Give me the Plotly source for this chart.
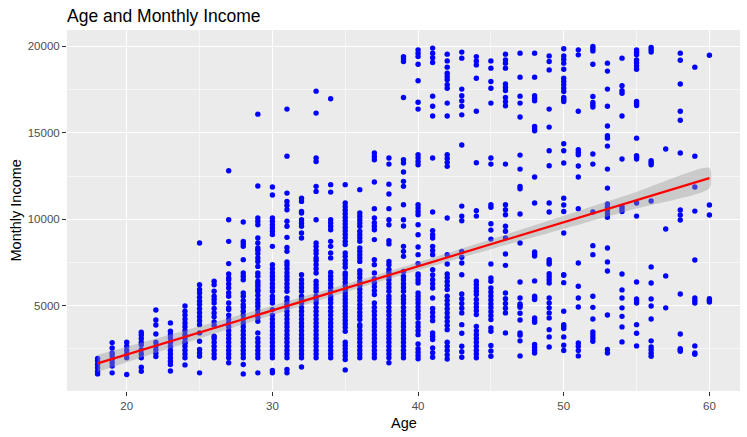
import plotly.graph_objects as go

# ---- data (Age vs MonthlyIncome) ----
inc_18 = [1050, 1200, 1400, 1600, 1800, 1950]
inc_19 = [1110, 1500, 1700, 1900, 2100, 2260, 2550, 2860]
inc_20 = [1010, 1980, 2200, 2420, 2650, 2880]
inc_21 = [1200, 1430, 1980, 2200, 2450, 2740, 2880, 3100, 3300, 3460]
inc_22 = [2050, 2250, 2450, 2650, 2880, 3360, 3880, 4170, 4750]
inc_23 = [1220, 1590, 1780, 1980, 2200, 2420, 2650, 2880, 3130, 3320, 3520, 4000]
inc_24 = [1570, 1980, 2200, 2420, 2650, 2840, 2880, 3100, 3320, 3550, 3780, 4000,
          4220, 4450, 4670, 4980]
inc_25 = [1110, 2070, 2260, 2460, 2940, 3420, 3900, 4130, 4360, 4590, 4820, 5060,
          5250, 5490, 5730, 5930, 6210, 8620]
inc_26 = [1980, 2200, 2420, 2650, 2880, 3100, 3230, 3860, 4060, 4350, 4580, 4830,
          5150, 5350, 5540, 5830, 6210, 6410]
inc_27 = [1690, 1980, 2200, 2420, 2650, 2880, 3100, 3320, 3550, 3780, 4000, 4220,
          4450, 4770, 4870, 5150, 5540, 5750, 6020, 6250, 6500, 6600, 6830, 7430,
          8720, 9970, 12800]
inc_28 = [1050, 1590, 1980, 2200, 2420, 2650, 2880, 3100, 3320, 3550, 3780, 4000,
          4220, 4450, 4680, 4900, 5060, 5290, 5540, 5730, 6500, 6700, 6890, 7660,
          8430, 8580, 8720, 9840]
inc_29 = [1110, 1980, 2200, 2420, 2650, 2880, 3100, 3420, 4090, 4300, 4520, 4740,
          4960, 5150, 5350, 5600, 5830, 5930, 6120, 6260, 6410, 6700, 6890, 7270,
          7560, 7760, 8000, 8200, 8330, 8620, 8910, 9680, 9880, 10070, 11920, 16080]
inc_30 = [1110, 1250, 1980, 2200, 2420, 2650, 2880, 3100, 3320, 3550, 3780, 4000,
          4220, 4450, 4770, 5150, 5350, 5540, 5830, 6050, 6270, 6500, 6700, 6900,
          7130, 7370, 8430, 9110, 9300, 9490, 9680, 9880, 10070, 11400, 11860]
inc_31 = [1110, 1300, 1980, 2200, 2420, 2650, 2880, 3100, 3320, 3550, 3780, 4000,
          4220, 4450, 4680, 4900, 5060, 5250, 5450, 5830, 6050, 6270, 6500, 6700,
          6900, 7130, 7350, 7520, 8140, 8370, 8950, 9590, 9880, 10550, 10800, 11030,
          11510, 13650, 16370]
inc_32 = [1450, 1980, 2200, 2420, 2650, 2880, 3100, 3320, 3550, 3780, 4000, 4220,
          4450, 4680, 4900, 5150, 5350, 5540, 5830, 6050, 6270, 6500, 6790, 8910,
          9200, 9590, 9780, 9970, 10360, 10450, 11030, 11220]
inc_33 = [1980, 2200, 2420, 2650, 2880, 3100, 3320, 3550, 3780, 4000, 4220, 4450,
          4680, 4900, 5150, 5350, 5540, 5830, 6020, 6210, 6410, 6890, 7130, 7370,
          7600, 7760, 8000, 8200, 8430, 8620, 9970, 11610, 11900, 13340, 13540,
          16140, 17410]
inc_34 = [1980, 2200, 2420, 2650, 2880, 3100, 3320, 3550, 3780, 4000, 4220, 4450,
          4680, 4900, 5150, 5350, 5540, 5830, 6050, 6270, 6500, 6700, 6920, 7760,
          8050, 8430, 8720, 9390, 9590, 9780, 9970, 11570, 12000, 16970]
inc_35 = [1280, 1880, 2100, 2300, 2500, 2700, 2880, 3520, 3750, 3950, 4150, 4350,
          4550, 4750, 4950, 5150, 5350, 5550, 5750, 5950, 6150, 6350, 6550, 6750,
          6890, 7220, 7420, 7620, 7850, 8050, 8530, 8720, 8920, 9120, 9320, 9520,
          9720, 9920, 10120, 10320, 10520, 10720, 10940, 12000]
inc_36 = [1980, 2200, 2420, 2650, 2880, 3100, 3320, 3550, 3780, 3900, 4190, 4400,
          4620, 4850, 5060, 5290, 5500, 5730, 5950, 6170, 6400, 6620, 6830, 7020,
          7560, 7760, 7950, 8140, 8330, 8720, 8910, 9100, 9300, 9590, 9780, 9970,
          10170, 10360, 11710]
inc_37 = [1980, 2200, 2420, 2650, 2880, 3100, 3320, 3550, 3780, 4000, 4220, 4450,
          4680, 4900, 5150, 5640, 5870, 6100, 6330, 6560, 6890, 7370, 7660, 8820,
          9390, 9590, 9800, 10070, 10610, 12150, 13440, 13630, 13830]
inc_38 = [1690, 1980, 2200, 2420, 2650, 2880, 3100, 3320, 3550, 3780, 4000, 4220,
          4450, 4680, 4900, 5150, 5350, 5540, 5830, 6050, 6270, 6500, 6700, 6920,
          7100, 7370, 7560, 8570, 8760, 9680, 9970, 10610, 11460, 12030, 13190, 13540]
inc_39 = [1980, 2200, 2420, 2650, 2880, 3100, 3320, 3550, 3780, 4000, 4220, 4450,
          4680, 4900, 5150, 5350, 5540, 5830, 6050, 6270, 6500, 6700, 6980, 7850,
          8140, 8430, 9610, 9970, 10840, 11900, 12190, 12730, 13250, 13440, 17040,
          19130, 19270, 19410]
inc_40 = [1920, 2100, 2300, 2500, 2780, 3320, 3550, 3780, 4000, 4290, 4480, 4700,
          4920, 5150, 5350, 5540, 5730, 6310, 6500, 6700, 6830, 7430, 7950, 8390,
          9100, 9680, 10260, 10450, 10650, 10840, 13150, 13340, 13540, 13730, 16370,
          16770, 18010, 18970, 19410, 19610, 19800]
inc_41 = [2010, 2280, 2550, 3040, 3230, 3420, 4130, 4360, 4600, 4830, 5440, 6020,
          6260, 6500, 6770, 7080, 7950, 8190, 8430, 8910, 9100, 9340, 10420, 13540,
          15970, 16540, 17120, 19070, 19340, 19610, 19900]
inc_42 = [1910, 2150, 2400, 2640, 2880, 3610, 3850, 4090, 4330, 4580, 4820, 5060,
          5300, 5540, 5930, 6160, 6400, 6620, 6830, 7410, 7950, 10070, 13060, 13290,
          13520, 13730, 15970, 16720, 17580, 17780, 18070, 18260, 18450, 18800,
          19160, 19550]
inc_43 = [2010, 2330, 2650, 3400, 3900, 4580, 4850, 5120, 5400, 5670, 6790, 7470,
          7800, 8140, 9910, 10180, 10760, 14290, 16040, 16540, 16850, 17140, 17530,
          19320, 19670]
inc_44 = [1980, 2200, 2420, 2650, 2880, 3100, 3320, 3550, 3800, 4480, 4700, 4920,
          5130, 5350, 5640, 5830, 6020, 6220, 6410, 10180, 10490, 13270, 16250,
          18160, 18930, 19160, 19410]
inc_45 = [2070, 2380, 2690, 3520, 3710, 4190, 4420, 4650, 4880, 5100, 5330, 5560,
          5790, 6020, 6410, 6600, 7410, 8850, 9370, 9740, 10690, 10840, 13190,
          13540, 16720, 17580, 17970, 18740, 19160]
inc_46 = [3420, 4580, 4850, 5120, 5400, 5730, 7330, 7990, 8910, 9300, 9590, 10260,
          10550, 10840, 13190, 16560, 16800, 17040, 17450, 17630, 17820, 18740,
          19030, 19220, 19550]
inc_47 = [2090, 2960, 3290, 3420, 4170, 4560, 4900, 5000, 5100, 5440, 6370, 8620,
          10300, 11760, 11900, 12900, 13710, 15910, 16720, 17120, 18220, 19610]
inc_48 = [2260, 2420, 2580, 2750, 4040, 4160, 4290, 5350, 5440, 5540, 6430, 7870,
          7990, 8100, 10940, 12440, 15120, 15240, 15370, 16850, 17000, 17140, 18220,
          19610]
inc_49 = [2610, 3190, 3610, 4290, 4580, 4870, 5150, 5440, 6310, 6500, 6680, 6850,
          7410, 7530, 7660, 10420, 10940, 13090, 13960, 15330, 16370, 18640, 19130,
          19450]
inc_50 = [2400, 2710, 3190, 3670, 3790, 3900, 4670, 6330, 6760, 6790, 9200, 10450,
          10820, 11220, 13250, 13960, 14370, 16810, 16930, 17040, 17390, 17580,
          17780, 17970, 18160, 18680, 19030, 19240, 19450, 19860]
inc_51 = [2090, 2400, 2650, 2840, 4920, 5440, 6120, 7470, 10610, 12440, 13080,
          13730, 13870, 14020, 16250, 19510, 19800]
inc_52 = [2940, 3130, 3300, 3480, 4230, 4900, 5540, 7950, 8470, 10420, 13190, 13770,
          16490, 16620, 16750, 17100, 18970, 19740, 19870, 19990]
inc_53 = [2260, 2460, 4460, 7000, 7530, 8330, 10110, 10300, 10500, 10690, 10880,
          11800, 12900, 14230, 14690, 14830, 15390, 16540, 17530, 18570, 19030]
inc_54 = [2900, 3770, 4380, 4870, 5440, 5910, 6830, 10450, 10600, 10740, 13480,
          15970, 17290, 17430, 17720, 19320]
inc_55 = [2670, 3400, 3900, 5150, 5270, 5390, 6370, 10180, 10940, 13480, 13580,
          13670, 14690, 16580, 16700, 16810, 18680, 18870, 19060, 19220, 19510,
          19660, 19800]
inc_56 = [2070, 2250, 2430, 2610, 2960, 4230, 4980, 5390, 6310, 7240, 11050, 13150,
          13270, 13380, 19670, 19800, 19940]
inc_57 = [4870, 6720, 9430, 14060]
inc_58 = [2360, 2440, 2510, 3360, 5670, 9950, 10240, 10530, 13830, 15730, 16250,
          17820, 19200, 19610]
inc_59 = [2190, 2260, 2670, 5150, 5290, 5440, 7640, 10470, 11860, 13650, 18800]
inc_60 = [5210, 5310, 5400, 10240, 10820, 19490]

ages = list(range(18, 61))
incomes_by_age = [inc_18, inc_19, inc_20, inc_21, inc_22, inc_23, inc_24, inc_25,
                  inc_26, inc_27, inc_28, inc_29, inc_30, inc_31, inc_32, inc_33,
                  inc_34, inc_35, inc_36, inc_37, inc_38, inc_39, inc_40, inc_41,
                  inc_42, inc_43, inc_44, inc_45, inc_46, inc_47, inc_48, inc_49,
                  inc_50, inc_51, inc_52, inc_53, inc_54, inc_55, inc_56, inc_57,
                  inc_58, inc_59, inc_60]

# linear fit and confidence band half-widths
fit_age = [18, 60]
fit_income = [1660, 12380]
band_age = [18, 24, 30, 37, 44, 50, 55, 60]
band_half = [494, 372, 269, 215, 272, 375, 477, 584]

x_ticks = [20, 30, 40, 50, 60]
y_ticks = [5000, 10000, 15000, 20000]

# ---- build figure ----
px_age, px_inc = [], []
for a, lst in zip(ages, incomes_by_age):
    for v in lst:
        px_age.append(a)
        px_inc.append(v)

slope = (fit_income[1] - fit_income[0]) / (fit_age[1] - fit_age[0])
center = [fit_income[0] + slope * (a - fit_age[0]) for a in band_age]
upper = [c + h for c, h in zip(center, band_half)]
lower = [c - h for c, h in zip(center, band_half)]

FONT = "Liberation Sans, Arial, sans-serif"

fig = go.Figure()
fig.add_trace(go.Scatter(
    x=px_age, y=px_inc, mode="markers",
    marker=dict(color="#0000FF", size=5.4, line=dict(width=0)),
    hoverinfo="skip", showlegend=False))
fig.add_trace(go.Scatter(
    x=band_age + band_age[::-1], y=upper + lower[::-1],
    mode="lines", fill="toself", fillcolor="rgba(153,153,153,0.4)",
    line=dict(width=0, shape="spline", smoothing=0.6),
    hoverinfo="skip", showlegend=False))
fig.add_trace(go.Scatter(
    x=fit_age, y=fit_income, mode="lines",
    line=dict(color="#FF0000", width=2.2), hoverinfo="skip", showlegend=False))

axis_common = dict(
    showgrid=True, gridcolor="#FFFFFF", gridwidth=1.1,
    zeroline=False, showline=False, automargin=False,
    ticks="outside", ticklen=4, tickwidth=1.1, tickcolor="#333333",
    tickfont=dict(family=FONT, size=11.5, color="#4D4D4D"),
)

fig.update_layout(
    width=747, height=437,
    margin=dict(l=67, r=7, t=30, b=46),
    paper_bgcolor="#FFFFFF", plot_bgcolor="#EBEBEB",
    font=dict(family=FONT, color="#000000"),
    hovermode=False,
    title=dict(text="Age and Monthly Income", x=67 / 747, xanchor="left",
               xref="container", y=1 - 16 / 437, yanchor="middle",
               yref="container", automargin=False,
               font=dict(size=17.5, color="#000000", family=FONT)),
    xaxis=dict(range=[15.9, 62.1], tickvals=x_ticks,
               ticktext=[str(v) for v in x_ticks],
               minor=dict(tickvals=[25, 35, 45, 55], showgrid=True,
                          gridcolor="#FFFFFF", gridwidth=0.55, ticks=""),
               **axis_common),
    yaxis=dict(range=[59.5, 20948.5], tickvals=y_ticks,
               ticktext=[str(v) for v in y_ticks],
               minor=dict(tickvals=[2500, 7500, 12500, 17500], showgrid=True,
                          gridcolor="#FFFFFF", gridwidth=0.55, ticks=""),
               **axis_common),
    annotations=[
        dict(text="Age", xref="paper", yref="paper", x=0.5, y=-32 / 361,
             xanchor="center", yanchor="middle", showarrow=False,
             font=dict(size=14.5, color="#000000", family=FONT)),
        dict(text="Monthly Income", xref="paper", yref="paper",
             x=-52 / 673, y=0.5, xanchor="center", yanchor="middle",
             textangle=-90, showarrow=False,
             font=dict(size=14.5, color="#000000", family=FONT)),
    ],
)

fig.write_html(
    "out.html",
    config={"displayModeBar": False, "staticPlot": True},
    post_script="document.body.style.margin='0';document.body.style.padding='0';"
                "document.body.style.overflow='hidden';",
)
